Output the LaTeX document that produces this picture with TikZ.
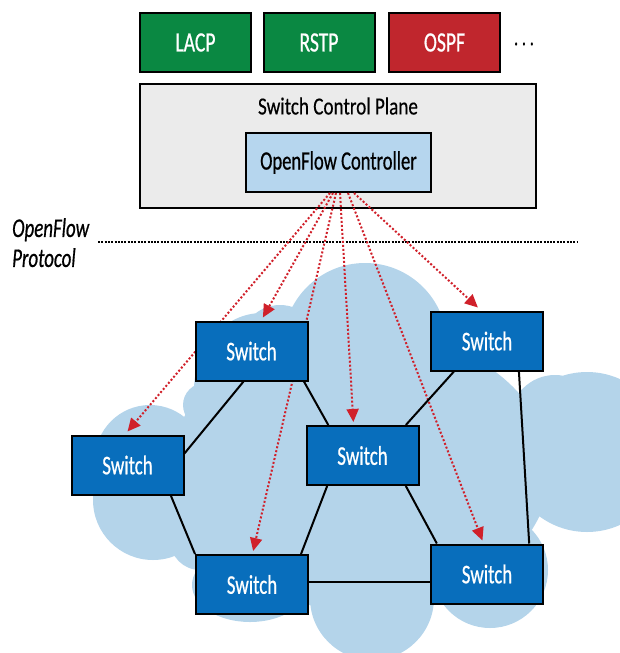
\documentclass[tikz,border=0pt]{standalone}
\usepackage{fontspec}
\setmainfont{Carlito}[FakeStretch=0.7,FakeBold=0.6]
\newfontfamily\planefont{Carlito}[FakeStretch=0.78,FakeBold=0.4]
\usetikzlibrary{arrows.meta,calc}
\definecolor{swblue}{RGB}{8,110,188}
\definecolor{grn}{RGB}{10,136,66}
\definecolor{rd}{RGB}{192,38,45}
\definecolor{planegray}{RGB}{235,235,235}
\definecolor{ctrlblue}{RGB}{182,214,238}
\definecolor{cloudc}{RGB}{180,212,234}
\definecolor{ofred}{RGB}{208,32,42}
\pgfdeclarelayer{back}
\pgfdeclarelayer{mid}
\pgfsetlayers{back,mid,main}
\tikzset{
  swbox/.style={draw=black, line width=2pt, fill=swblue, text=white, minimum width=112pt, minimum height=59pt, inner sep=0pt, font=\fontsize{27}{30}\selectfont},
  protobox/.style={draw=black, line width=2pt, minimum width=111pt, minimum height=59pt, inner sep=0pt, text=white, font=\fontsize{28}{30}\selectfont},
  link/.style={line width=2pt, draw=black},
  ofarrow/.style={draw=ofred, line width=2pt, dash pattern=on 2pt off 2pt, -{Triangle[length=13pt,width=12pt]}},
}
\begin{document}
\begin{tikzpicture}[x=1pt,y=-1pt]
\useasboundingbox (0,0) rectangle (620,653);
% switches
\node[swbox] (s1) at (251.5,351) {Switch};
\node[swbox] (s2) at (487,341) {Switch};
\node[swbox] (s3) at (127.5,465) {Switch};
\node[swbox] (s4) at (362.5,455.5) {Switch};
\node[swbox] (s5) at (252,584.5) {Switch};
\node[swbox] (s6) at (487,574) {Switch};
\begin{pgfonlayer}{back}
\begin{scope}
\clip (0,0) rectangle (620,653);
\fill[cloudc]
  (360,470) ellipse[x radius=190, y radius=140]
  (365,345) circle[radius=82]
  (587,452) circle[radius=80]
  (555,420) circle[radius=45]
  (490,570) circle[radius=58]
  (372,598) circle[radius=62]
  (250,585) ellipse[x radius=58, y radius=37]
  (153,500) circle[radius=60]
  (150,460) circle[radius=55]
  (262,390) ellipse[x radius=68, y radius=77]
  (205,405) circle[radius=22]
  (280,345) circle[radius=40]
  (200,540) circle[radius=30];
\end{scope}
\node[protobox, fill=grn] (lacp) at (195.5,42.5) {LACP};
\node[protobox, fill=grn] (rstp) at (319,42.5) {RSTP};
\node[protobox, fill=rd] (ospf) at (444.5,42.5) {OSPF};
\node[font=\fontsize{22}{24}\selectfont] (more) at (524,44) {.\hspace{4pt}.\hspace{4pt}.};
\node[draw=black, line width=2pt, fill=planegray, minimum width=396pt, minimum height=124pt] (plane) at (338,146) {};
\node[font=\planefont\fontsize{24.5}{26}\selectfont] (planelbl) at (338,106) {Switch Control Plane};
\node[draw=black, line width=2pt, fill=ctrlblue, minimum width=185pt, minimum height=59pt, inner sep=0pt, font=\fontsize{26.5}{29}\selectfont] (ctrl) at (338.5,162.5) {OpenFlow Controller};
\node[anchor=north west, align=left, inner sep=0pt, font=\fontsize{27}{30}\selectfont\itshape] (proto) at (12,218) {OpenFlow\\Protocol};
\draw[line width=2pt, dash pattern=on 2pt off 1.3pt] (98,242) -- (578,242);
\end{pgfonlayer}
\begin{pgfonlayer}{mid}
% OpenFlow arrows
\draw[ofarrow] ($(ctrl.south)+(-8.5,0)$) -- ($(s3.north west)!0.5!(s3.north east)+(0,-3)$);
\draw[ofarrow] ($(ctrl.south)+(-5.5,0)$) -- ($(s1.north west)!0.6!(s1.north east)+(0,-3)$);
\draw[ofarrow] ($(ctrl.south)+(-2.5,0)$) -- ($(s5.north west)!0.51!(s5.north east)+(0,-3)$);
\draw[ofarrow] ($(ctrl.south)+(1.5,0)$) -- ($(s4.north west)!0.42!(s4.north east)+(0,-3)$);
\draw[ofarrow] ($(ctrl.south)+(9.5,0)$) -- ($(s6.north west)!0.46!(s6.north east)+(0,-3)$);
\draw[ofarrow] ($(ctrl.south)+(15.5,0)$) -- ($(s2.north west)!0.42!(s2.north east)+(0,-3)$);
% links
\draw[link] ($(s1.south west)!0.43!(s1.south east)$) -- ($(s3.north east)!0.31!(s3.south east)$);
\draw[link] ($(s1.south west)!0.96!(s1.south east)$) -- ($(s4.north west)!0.2!(s4.north east)$);
\draw[link] ($(s2.south west)!0.21!(s2.south east)$) -- ($(s4.north west)!0.88!(s4.north east)$);
\draw[link] ($(s2.south west)!0.78!(s2.south east)$) -- ($(s6.north west)!0.87!(s6.north east)$);
\draw[link] ($(s3.south west)!0.88!(s3.south east)$) -- (s5.north west);
\draw[link] ($(s4.south west)!0.19!(s4.south east)$) -- ($(s5.north west)!0.93!(s5.north east)$);
\draw[link] ($(s4.south west)!0.88!(s4.south east)$) -- ($(s6.north west)!0.06!(s6.north east)$);
\draw[link] ($(s5.north east)!0.46!(s5.south east)$) coordinate (l8) -- (l8 -| s6.west);
\end{pgfonlayer}
\end{tikzpicture}
\end{document}
